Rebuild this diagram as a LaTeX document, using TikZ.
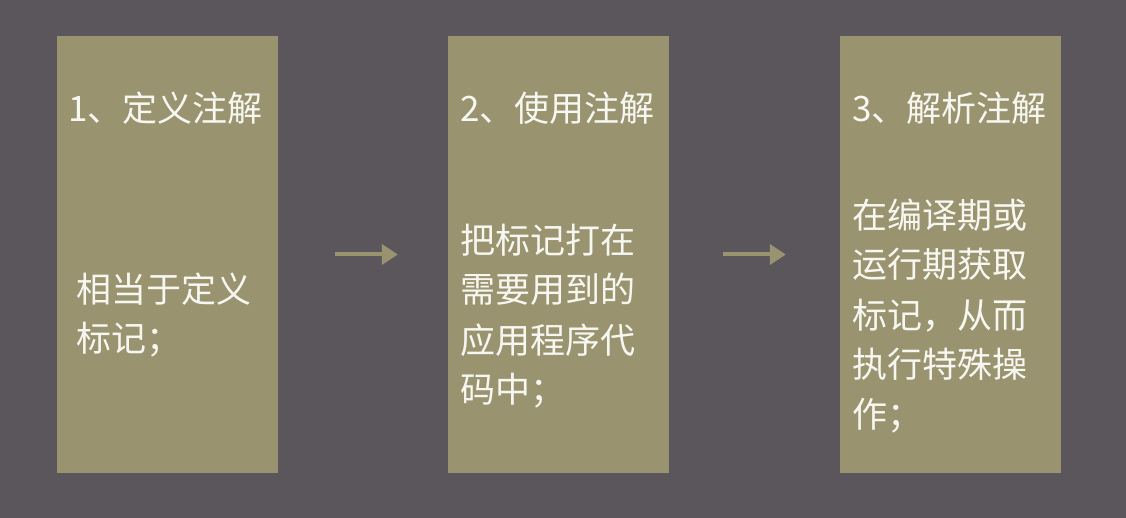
\documentclass[tikz,border=0pt]{standalone}
\usepackage{fontspec}
\setmainfont{Noto Sans CJK SC}
\usetikzlibrary{arrows.meta}
\definecolor{bgc}{HTML}{5B565C}
\definecolor{boxc}{HTML}{99936F}
\definecolor{txtc}{HTML}{F7F7F2}
\tikzset{
  panel/.style={fill=boxc, draw=none, minimum width=221pt, minimum height=437pt, inner sep=0pt},
  ln/.style={anchor=base west, inner sep=0pt, text=txtc, font=\fontsize{35}{41}\selectfont},
  flow/.style={draw=boxc, line width=4pt, -{Triangle[length=16pt,width=20pt]}}
}
\begin{document}
\begin{tikzpicture}[x=1pt,y=-1pt]
\fill[bgc] (0,0) rectangle (1126,518);
\useasboundingbox (0,0) rectangle (1126,518);
\node[panel] (b1) at (167.5,254.5) {};
\node[panel] (b2) at (558.5,254.5) {};
\node[panel] (b3) at (950.5,254.5) {};
\draw[flow, shorten <=57pt, shorten >=50pt] (b1.east) -- (b2.west);
\draw[flow, shorten <=54pt, shorten >=54pt] (b2.east) -- (b3.west);
% titles
\node[ln] (t1) at (68,122) {1、定义注解};
\node[ln] (t2) at (460,122) {2、使用注解};
\node[ln] (t3) at (852,122) {3、解析注解};
% box 1 body
\node[ln] (a1) at (76,302) {相当于定义};
\node[ln] (a2) at (76,351) {标记；};
% box 2 body
\node[ln] (c1) at (460,254) {把标记打在};
\node[ln] (c2) at (460,303) {需要用到的};
\node[ln] (c3) at (460,353) {应用程序代};
\node[ln] (c4) at (460,402) {码中；};
% box 3 body
\node[ln] (d1) at (852,229) {在编译期或};
\node[ln] (d2) at (852,278) {运行期获取};
\node[ln] (d3) at (852,328) {标记，从而};
\node[ln] (d4) at (852,377) {执行特殊操};
\node[ln] (d5) at (852,427) {作；};
\end{tikzpicture}
\end{document}
